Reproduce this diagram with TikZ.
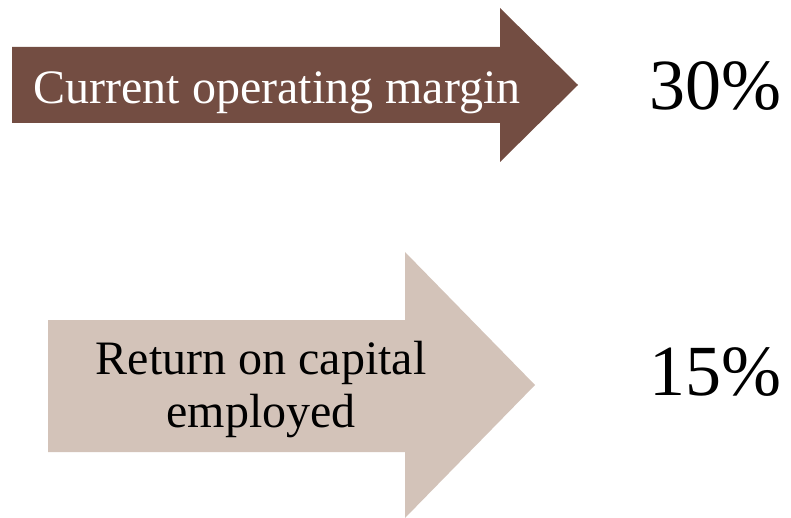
\documentclass[tikz,border=0pt]{standalone}
\usepackage{fontspec}
\setmainfont{Liberation Serif}
\usetikzlibrary{positioning}

\definecolor{marginbrown}{HTML}{734D42}
\definecolor{capitalbeige}{HTML}{D3C3B9}

\begin{document}
\begin{tikzpicture}[x=1pt, y=-1pt,
  arrowtext/.style={font=\fontsize{48}{53}\selectfont, align=center, inner sep=0pt},
  figtext/.style={font=\fontsize{72}{80}\selectfont, inner sep=0pt, anchor=base}]
  \useasboundingbox (0,0) rectangle (791,518);

  % the two block arrows
  \fill[marginbrown] (12,47) -- (500,47) -- (500,8) -- (578,85) -- (500,162)
    -- (500,123) -- (12,123) -- cycle;
  \fill[capitalbeige] (48,320) -- (405,320) -- (405,252) -- (535,385) -- (405,518)
    -- (405,452) -- (48,452) -- cycle;

  % what each arrow stands for
  \node[arrowtext, text=white, anchor=base] (margin) at (277,104) {Current operating margin};
  \node[arrowtext] (capital) at (261,390) {Return on capital\\employed};

  % and the values
  \node[figtext] (marginval) at (715,110) {30\%};
  \node[figtext] (capitalval) at (715,395) {15\%};
\end{tikzpicture}
\end{document}
